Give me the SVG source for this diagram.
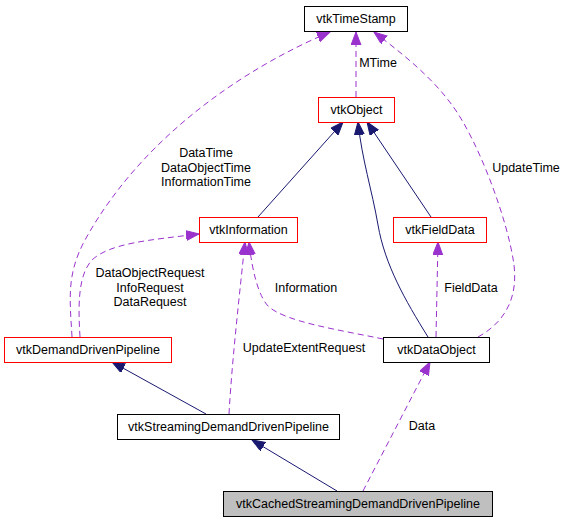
<svg xmlns="http://www.w3.org/2000/svg" width="568" height="523" viewBox="0 0 568 523">
<style>
text{font-family:"Liberation Sans",Arial,sans-serif;font-size:12.5px;fill:#000}
.n text{text-anchor:middle}
.box{fill:#fff;stroke:#000;stroke-width:1}
.red{fill:#fff;stroke:#ff0000;stroke-width:1}
.cur{fill:#bfbfbf;stroke:#000;stroke-width:1}
.inh{fill:none;stroke:#191970;stroke-width:1;marker-end:url(#ah)}
.use{fill:none;stroke:#9a32cd;stroke-width:1;stroke-dasharray:6,4;marker-end:url(#ap)}
.lbl{text-anchor:middle}
</style>
<defs>
<marker id="ah" markerUnits="userSpaceOnUse" markerWidth="14" markerHeight="12" refX="13" refY="5" orient="auto"><path d="M0,0 L13,5 L0,10 z" fill="#191970" stroke="#191970"/></marker>
<marker id="ap" markerUnits="userSpaceOnUse" markerWidth="14" markerHeight="12" refX="13" refY="5" orient="auto"><path d="M0,0 L13,5 L0,10 z" fill="#9a32cd" stroke="#9a32cd"/></marker>
</defs>
<g id="edges">
<path class="inh" d="M206,414 L112,362"/>
<path class="inh" d="M337,491 L252,440"/>
<path class="use" d="M363,491 L430,362"/>
<path class="use" d="M229,414 C232,360 240,290 245,242"/>
<path class="use" d="M383,339 C340,330 285,322 268,306 C258,295 252,270 249,242"/>
<path class="use" d="M436,337 L438,242"/>
<path class="inh" d="M428,337 C405,300 385,265 378,225 C372,190 362,160 358,122"/>
<path class="inh" d="M431,217 L367,122"/>
<path class="inh" d="M258,217 L343,122"/>
<path class="use" d="M356,97 L356,32"/>
<path class="use" d="M72,337 C70,300 66,275 85,240 C140,140 240,70 330,32"/>
<path class="use" d="M80,337 C78,305 78,275 92,260 C110,243 150,240 199,234"/>
<path class="use" d="M478,337 C505,322 518,298 514,265 C508,220 478,140 452,105 C430,75 400,52 374,32"/>
<text class="lbl" x="378" y="67">MTime</text>
<text class="lbl" x="206" y="157">DataTime</text>
<text class="lbl" x="206" y="171.5">DataObjectTime</text>
<text class="lbl" x="206" y="186">InformationTime</text>
<text class="lbl" x="526" y="172">UpdateTime</text>
<text class="lbl" x="150" y="277">DataObjectRequest</text>
<text class="lbl" x="150" y="292">InfoRequest</text>
<text class="lbl" x="150" y="306">DataRequest</text>
<text class="lbl" x="306" y="292">Information</text>
<text class="lbl" x="471" y="292">FieldData</text>
<text class="lbl" x="304" y="352">UpdateExtentRequest</text>
<text class="lbl" x="422" y="430">Data</text>
</g>
<g id="vtkTimeStamp" class="n"><rect class="box" x="304.5" y="6.5" width="103" height="25"/><text x="356" y="23">vtkTimeStamp</text></g>
<g id="vtkObject" class="n"><rect class="red" x="318.5" y="97.5" width="76" height="25"/><text x="356.5" y="114">vtkObject</text></g>
<g id="vtkInformation" class="n"><rect class="red" x="199.5" y="217.5" width="98" height="25"/><text x="248.5" y="234">vtkInformation</text></g>
<g id="vtkFieldData" class="n"><rect class="red" x="393.5" y="217.5" width="93" height="25"/><text x="440" y="234">vtkFieldData</text></g>
<g id="vtkDemandDrivenPipeline" class="n"><rect class="red" x="4.5" y="337.5" width="167" height="25"/><text x="88" y="354">vtkDemandDrivenPipeline</text></g>
<g id="vtkDataObject" class="n"><rect class="box" x="383.5" y="337.5" width="106" height="25"/><text x="436.5" y="354">vtkDataObject</text></g>
<g id="vtkStreamingDemandDrivenPipeline" class="n"><rect class="box" x="117.5" y="414.5" width="222" height="25"/><text x="228.5" y="431">vtkStreamingDemandDrivenPipeline</text></g>
<g id="vtkCachedStreamingDemandDrivenPipeline" class="n"><rect class="cur" x="223.5" y="491.5" width="269" height="25"/><text x="358" y="508">vtkCachedStreamingDemandDrivenPipeline</text></g>
</svg>
